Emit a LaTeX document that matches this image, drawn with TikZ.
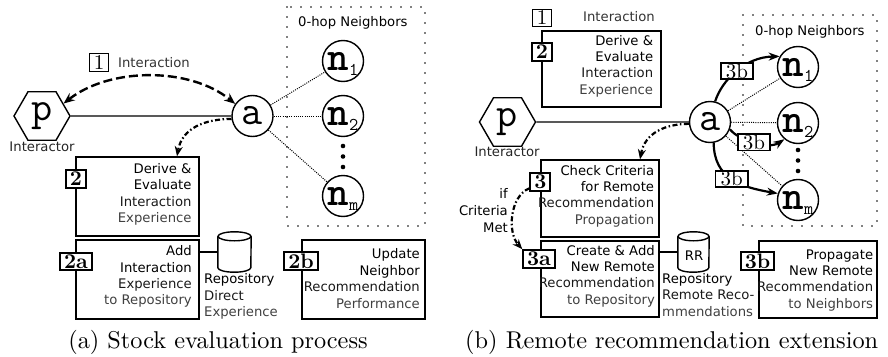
\documentclass[tikz,border=0pt]{standalone}
\usepackage{fontspec}
\newfontfamily\dvsans{DejaVu Sans}
\usetikzlibrary{shapes.geometric,arrows.meta}

% neighbour label: bold typewriter n with a hanging index
\newcommand\nsub[1]{{\bfseries n}\smash{\raisebox{-5pt}{\fontsize{18}{18}\selectfont #1}}}
% step numbers, set at 10pt and enlarged
\newcommand\stepno[1]{\scalebox{2.1}{\fontsize{10}{12}\selectfont #1}}
\newcommand\stepnob[1]{\scalebox{2.1}{\fontsize{10}{12}\selectfont\bfseries #1}}

\colorlet{midtext}{black!90}
\colorlet{softtext}{black!75}

\tikzset{
  sans/.style={font=\dvsans\fontsize{13.2}{16.4}\selectfont, inner sep=0pt},
  procbox/.style={draw, line width=1.4pt, inner sep=0pt},
  stepthin/.style={draw, fill=white, line width=1.2pt,
    inner xsep=4.2pt, inner ysep=0pt, minimum height=17.5pt},
  stepbold/.style={draw, fill=white, line width=2pt,
    inner xsep=3.8pt, inner ysep=0pt, minimum height=17.5pt},
  steptag/.style={draw, fill=white, line width=1.8pt,
    inner xsep=5.2pt, inner ysep=0pt, minimum height=16.5pt},
  agent/.style={circle, draw, line width=1.4pt, minimum size=41pt, inner sep=0pt,
    font=\ttfamily\fontsize{41}{41}\selectfont},
  interactor/.style={regular polygon, regular polygon sides=6, draw, line width=1.4pt,
    minimum size=56pt, inner sep=0pt, font=\ttfamily\fontsize{41}{41}\selectfont},
  nbframe/.style={line width=1.6pt, line cap=round, dash pattern=on 0pt off 10pt},
  link/.style={line width=1.4pt},
  weak/.style={line width=1pt, dash pattern=on 1pt off 1.2pt},
  exchange/.style={line width=2.4pt, dash pattern=on 9pt off 4pt,
    {Stealth[length=11pt,width=9pt]}-{Stealth[length=11pt,width=9pt]}},
  derive/.style={line width=2.2pt, dash pattern=on 5pt off 2.5pt on 1.5pt off 2.5pt,
    -{Stealth[length=10pt,width=8pt]}},
  propagate/.style={line width=2.2pt, -{Stealth[length=11pt,width=8pt]}},
  caption/.style={inner sep=0pt},
  dotmark/.style={circle, fill, inner sep=0pt, minimum size=4.6pt},
  repo/.style={line width=1.4pt},
}

\begin{document}
\begin{tikzpicture}[x=1pt, y=-1pt]
\useasboundingbox (0,0) rectangle (888,356);

%% ---------------- (a) stock evaluation process ----------------
\draw[nbframe] (287,7) rectangle (425,226);
\node[sans, anchor=base west] (hopL) at (298,26.5) {0-hop Neighbors};

\node[interactor] (pL) at (42,116) {p};
\node[sans, anchor=base, text=black!85] (ipL) at (42,151) {Interactor};
\node[agent] (aL) at (252.5,116) {a};
\node[agent] (n1L) at (343,61) {\nsub{1}};
\node[agent] (n2L) at (343,116) {\nsub{2}};
\node[agent] (nmL) at (343,196) {\nsub{m}};
\node[dotmark] (d1L) at (343,146) {};
\node[dotmark] (d2L) at (343,156.5) {};
\node[dotmark] (d3L) at (343,167) {};

\draw[link] (pL.east) -- (aL.west);
\draw[weak] (aL) -- (n1L);
\draw[weak] (aL) -- (n2L);
\draw[weak] (aL) -- (nmL);

\node[stepthin] (s1L) at (99,62.5) {\stepno{1}};
\node[sans, anchor=base west, text=black!80] (intL) at (118,67) {Interaction};
\draw[exchange] (pL.30) .. controls (110,67) and (190,67) .. (aL.145);

\node[procbox, minimum width=123pt, minimum height=79pt] (box2L) at (137.5,196.5) {};
\node[sans, anchor=east, align=right] (box2Lt) at (191.7,194.8)
  {\strut Derive \&\\Evaluate\\\textcolor{midtext}{Interaction}\\\textcolor{softtext}{Experience}\strut};
\node[stepbold] (s2L) at (76,179) {\stepnob{2}};
\draw[derive] (aL.188) .. controls (205,119) and (182,128) .. ([xshift=39.5pt]box2L.north);

\node[procbox, minimum width=123pt, minimum height=79pt] (box2aL) at (137.5,279.5) {};
\node[sans, anchor=east, align=right] (box2aLt) at (192,277)
  {\strut Add\\Interaction\\\textcolor{midtext}{Experience}\\\textcolor{softtext}{to Repository}\strut};
\node[stepbold] (s2aL) at (76,261.5) {\stepnob{2a}};

\node[inner sep=0pt, minimum width=33pt, minimum height=40pt] (cylL) at (234.5,252) {};
\draw[repo] (cylL.north) ++(0,4.5) ellipse [x radius=16.5, y radius=4.5];
\draw[repo] ([yshift=-4.5pt]cylL.north west) -- ([yshift=4.5pt]cylL.south west)
  arc[start angle=180, end angle=0, x radius=16.5, y radius=4.5] -- ([yshift=-4.5pt]cylL.north east);
\draw[repo] (cylL.west) -- (cylL.west -| box2aL.east);
\node[sans, anchor=west, align=left] (repLt) at (204,296.8)
  {\strut Repository\\\textcolor{midtext}{Direct}\\\textcolor{softtext}{Experience}\strut};

\node[procbox, minimum width=123pt, minimum height=79pt] (box2bL) at (363.5,279.5) {};
\node[sans, anchor=east, align=right] (box2bLt) at (420,280.3)
  {\strut Update\\Neighbor\\\textcolor{midtext}{Recommendation}\\\textcolor{softtext}{Performance}\strut};
\node[stepbold] (s2bL) at (301,261) {\stepnob{2b}};

\node[caption, anchor=base] (capL) at (218,348)
  {\scalebox{2.43}{\fontsize{10}{12}\selectfont (a) Stock evaluation process}};

%% ---------------- (b) remote recommendation extension ----------------
\draw[nbframe] (743,15) rectangle (877,226);
\node[sans, anchor=base west] (hopR) at (755,35.5) {0-hop Neighbors};

\node[stepthin] (s1R) at (542,18) {\stepno{1}};
\node[sans, anchor=base east, text=black!80] (intR) at (655,21) {Interaction};

\node[procbox, minimum width=119pt, minimum height=76pt] (box2R) at (601.5,69) {};
\node[sans, anchor=east, align=right] (box2Rt) at (653.3,66.5)
  {\strut Derive \&\\Evaluate\\\textcolor{midtext}{Interaction}\\\textcolor{softtext}{Experience}\strut};
\node[stepbold] (s2R) at (542,52) {\stepnob{2}};

\node[interactor] (pR) at (507.5,122) {p};
\node[sans, anchor=base, text=black!85] (ipR) at (507,156) {Interactor};
\node[agent] (aR) at (710,122) {a};
\node[agent] (n1R) at (798,67) {\nsub{1}};
\node[agent] (n2R) at (798,123) {\nsub{2}};
\node[agent] (nmR) at (798,200) {\nsub{m}};
\node[dotmark] (d1R) at (798,150) {};
\node[dotmark] (d2R) at (798,160.5) {};
\node[dotmark] (d3R) at (798,171) {};

\draw[link] (pR.east) -- (aR.west);
\draw[weak] (aR) -- (n1R);
\draw[weak] (aR) -- (n2R);
\draw[weak] (aR) -- (nmR);

\draw[propagate] (aR.76) .. controls (722,80) and (745,57) .. (n1R.150)
  node[steptag, pos=0.5] (t1R) {\stepno{3b}};
\draw[propagate] (aR.-20) .. controls (738,140) and (768,150) .. (n2R.-130)
  node[steptag, pos=0.5] (t2R) {\stepno{3b}};
\draw[propagate] (aR.-80) .. controls (714,178) and (740,187) .. (nmR.162)
  node[steptag, pos=0.5] (t3R) {\stepno{3b}};

\node[procbox, minimum width=118pt, minimum height=77pt] (box3R) at (600,198.5) {};
\node[sans, anchor=east, align=right] (box3Rt) at (654.3,196.5)
  {\strut Check Criteria\\for Remote\\\textcolor{midtext}{Recommendation}\\\textcolor{softtext}{Propagation}\strut};
\node[stepbold] (s3R) at (540.3,182) {\stepnob{3}};
\draw[derive] (aR.185) .. controls (665,124) and (645,133) .. ([xshift=40pt]box3R.north);

\node[sans, anchor=east, align=right, font=\dvsans\fontsize{13.2}{16.7}\selectfont] (critR) at (508,212)
  {\strut if\\Criteria\\Met\strut};

\node[procbox, minimum width=118pt, minimum height=76pt] (box3aR) at (600,279) {};
\node[sans, anchor=east, align=right] (box3aRt) at (655,276.5)
  {\strut Create \& Add\\New Remote\\\textcolor{midtext}{Recommendation}\\\textcolor{softtext}{to Repository}\strut};
\node[stepbold] (s3aR) at (539,259) {\stepnob{3a}};
\draw[derive] (s3R.-150) .. controls (510,196) and (507,232) .. (s3aR.north west);

\node[inner sep=0pt, minimum width=31pt, minimum height=40pt] (cylR) at (693.5,252) {};
\draw[repo] (cylR.north) ++(0,4.5) ellipse [x radius=15.5, y radius=4.5];
\draw[repo] ([yshift=-4.5pt]cylR.north west) -- ([yshift=4.5pt]cylR.south west)
  arc[start angle=180, end angle=0, x radius=15.5, y radius=4.5] -- ([yshift=-4.5pt]cylR.north east);
\draw[repo] (cylR.west) -- (cylR.west -| box3aR.east);
\node[sans] (rrR) at (694,256) {RR};
\node[sans, anchor=west, align=left] (repRt) at (662,296.6)
  {\strut Repository\\\textcolor{midtext}{Remote Reco-}\\\textcolor{softtext}{mmendations}\strut};

\node[procbox, minimum width=118pt, minimum height=77pt] (box3bR) at (818,279.5) {};
\node[sans, anchor=east, align=right] (box3bRt) at (873.3,280.5)
  {\strut Propagate\\New Remote\\\textcolor{midtext}{Recommendation}\\\textcolor{softtext}{to Neighbors}\strut};
\node[stepbold] (s3bR) at (757.5,261) {\stepnob{3b}};

\node[caption, anchor=base] (capR) at (671.7,348)
  {\scalebox{2.43}{\fontsize{10}{12}\selectfont (b) Remote recommendation extension}};
\end{tikzpicture}
\end{document}
